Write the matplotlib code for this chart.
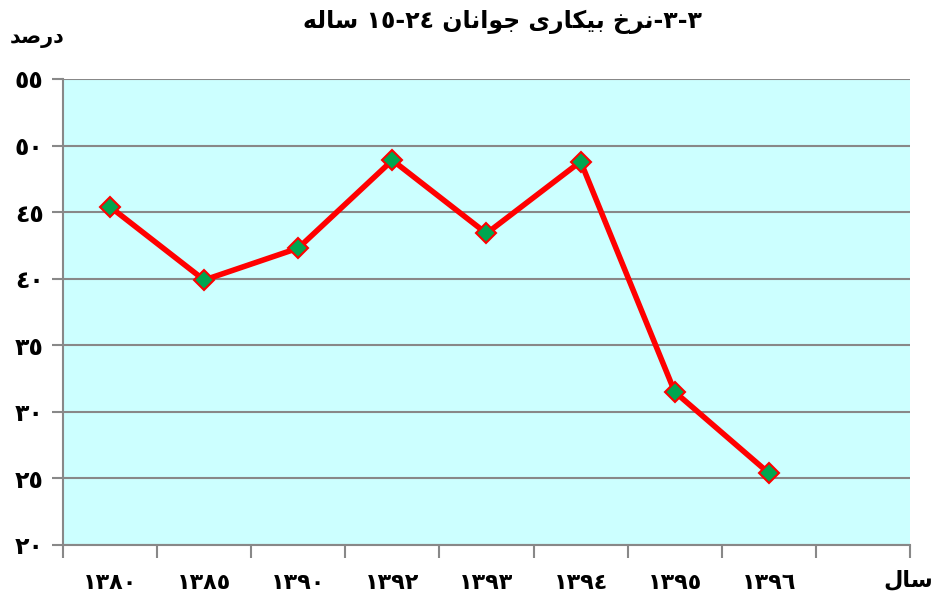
import matplotlib
matplotlib.use("Agg")
import matplotlib.pyplot as plt

# ---------------- data ----------------
years = ["١٣٨٠", "١٣٨٥", "١٣٩٠", "١٣٩٢", "١٣٩٣", "١٣٩٤", "١٣٩٥", "١٣٩٦"]
rates = [45.4, 39.9, 42.3, 48.9, 43.4, 48.8, 31.5, 25.4]
yticks = [20, 25, 30, 35, 40, 45, 50, 55]
ytick_labels = ["٢٠", "٢٥", "٣٠", "٣٥", "٤٠", "٤٥", "٥٠", "٥٥"]
title_words = ["نرخ", "بیکاری", "جوانان"]
ylabel_word = "درصد"
xlabel_word = "سال"
age_word = "ساله"

# ---------------- minimal Arabic shaping ----------------
# (isolated, final, initial, medial); dual-joining if 4 forms
FORMS = {
    "ا": ("\uFE8D", "\uFE8E"),
    "ب": ("\uFE8F", "\uFE90", "\uFE91", "\uFE92"),
    "ج": ("\uFE9D", "\uFE9E", "\uFE9F", "\uFEA0"),
    "خ": ("\uFEA5", "\uFEA6", "\uFEA7", "\uFEA8"),
    "د": ("\uFEA9", "\uFEAA"),
    "ر": ("\uFEAD", "\uFEAE"),
    "س": ("\uFEB1", "\uFEB2", "\uFEB3", "\uFEB4"),
    "ص": ("\uFEB9", "\uFEBA", "\uFEBB", "\uFEBC"),
    "ل": ("\uFEDD", "\uFEDE", "\uFEDF", "\uFEE0"),
    "ن": ("\uFEE5", "\uFEE6", "\uFEE7", "\uFEE8"),
    "ه": ("\uFEE9", "\uFEEA", "\uFEEB", "\uFEEC"),
    "و": ("\uFEED", "\uFEEE"),
    "ی": ("\uFBFC", "\uFBFD", "\uFBFE", "\uFBFF"),
    "ک": ("\uFB8E", "\uFB8F", "\uFB90", "\uFB91"),
}


def shape(word):
    out = []
    n = len(word)
    for i, ch in enumerate(word):
        f = FORMS[ch]
        prev_joins = i > 0 and len(FORMS[word[i - 1]]) == 4
        next_joins = i < n - 1 and len(f) == 4
        if prev_joins and next_joins:
            g = f[3]
        elif prev_joins:
            g = f[1]
        elif next_joins:
            g = f[2]
        else:
            g = f[0]
        out.append(g)
    return "".join(reversed(out))  # visual (left-to-right) order


FONT = ["DejaVu Sans", "Noto Sans"]
plt.rcParams["font.family"] = FONT

fig = plt.figure(figsize=(9.37, 5.99), dpi=100)
ax = fig.add_axes([63 / 937, 1 - 545 / 599, (910 - 63) / 937, (545 - 79) / 599])
ax.set_facecolor("#CCFFFF")

xs = [i + 0.5 for i in range(len(rates))]
ax.plot(xs, rates, color="#FF0000", lw=4, marker="D", markersize=10,
        markerfacecolor="#00A650", markeredgecolor="#FF0000",
        markeredgewidth=1.5, zorder=3, solid_joinstyle="miter")

ax.set_xlim(0, 9)
ax.set_ylim(20, 55)
ax.set_yticks(yticks)
ax.set_yticklabels(ytick_labels, fontsize=17, fontweight="bold")
ax.set_xticks(range(10))
ax.set_xticklabels([])
ax.set_xticks(xs, minor=True)
ax.set_xticklabels(years, minor=True, fontsize=16, fontweight="bold")
ax.tick_params(axis="x", which="minor", length=0, pad=20)
ax.tick_params(axis="x", which="major", length=9, width=1.5, color="#888888")
ax.tick_params(axis="y", length=8, width=1.5, color="#888888", pad=6)

ax.grid(axis="y", color="#888888", lw=1.5)
ax.set_axisbelow(True)
for side in ["top", "right"]:
    ax.spines[side].set_visible(False)
for side in ["left", "bottom"]:
    ax.spines[side].set_color("#888888")
    ax.spines[side].set_linewidth(1.5)

# title in visual order (right-to-left reading)
title = (shape(age_word) + " ١٥-٢٤ " + " ".join(shape(w) for w in reversed(title_words))
         + "-٣-٣")
fig.text(503 / 937, 1 - 22 / 599, title, ha="center", va="center",
         fontsize=17, fontweight="bold")
fig.text(37 / 937, 1 - 38 / 599, shape(ylabel_word), ha="center", va="center",
         fontsize=15, fontweight="bold")
fig.text(933 / 937, 1 - 580 / 599, shape(xlabel_word), ha="right", va="center",
         fontsize=16, fontweight="bold")

fig.savefig("out.png", dpi=100)
